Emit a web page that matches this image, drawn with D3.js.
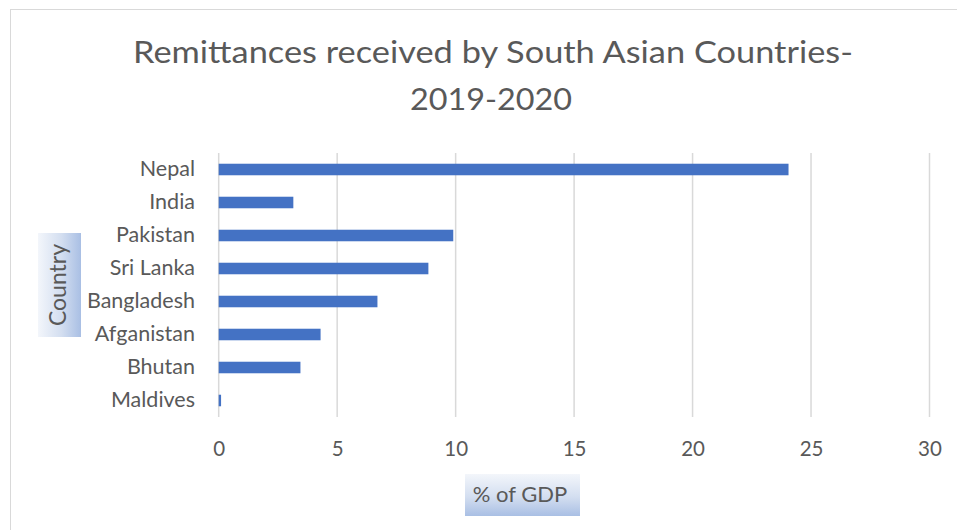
<!DOCTYPE html>
<html>
<head>
<meta charset="utf-8">
<script src="https://cdn.jsdelivr.net/npm/d3@7"></script>
<style>
  html, body { margin: 0; padding: 0; background: #ffffff; }
  svg { display: block; }
  text { font-family: Lato, "Open Sans", sans-serif; fill: #595959; }
</style>
</head>
<body>
<svg id="chart" width="957" height="530"></svg>
<script>
// Remittances as % of GDP, 2019-2020
const countries = ["Nepal", "India", "Pakistan", "Sri Lanka", "Bangladesh", "Afganistan", "Bhutan", "Maldives"];
const remittances = [24.05, 3.15, 9.9, 8.85, 6.7, 4.3, 3.45, 0.1];
const xTicks = [0, 5, 10, 15, 20, 25, 30];
const titleLines = ["Remittances received by South Asian Countries-", "2019-2020"];
const xAxisTitle = "% of GDP";
const yAxisTitle = "Country";

const rows = countries.map((c, i) => ({ country: c, value: remittances[i] }));

const svg = d3.select("#chart");

// gradient fills for the axis title boxes
const defs = svg.append("defs");
function boxGradient(id, horizontal) {
  const g = defs.append("linearGradient").attr("id", id)
    .attr("x1", 0).attr("y1", 0)
    .attr("x2", horizontal ? 1 : 0).attr("y2", horizontal ? 0 : 1);
  g.append("stop").attr("offset", "0%").attr("stop-color", "#f3f6fb");
  g.append("stop").attr("offset", "55%").attr("stop-color", "#d3def0");
  g.append("stop").attr("offset", "100%").attr("stop-color", "#a9bfe4");
}
boxGradient("boxV", false);
boxGradient("boxH", true);

// chart area frame
svg.append("rect")
  .attr("x", 10.5).attr("y", 9.5)
  .attr("width", 960).attr("height", 540)
  .attr("fill", "#ffffff")
  .attr("stroke", "#d9d9d9").attr("stroke-width", 1);

// title
svg.append("g").selectAll("text")
  .data(titleLines)
  .join("text")
  .attr("x", (d, i) => i === 0 ? 493 : 491)
  .attr("y", (d, i) => 63 + i * 47)
  .attr("text-anchor", "middle")
  .attr("font-size", 31)
  .attr("font-weight", 400)
  .attr("textLength", (d, i) => i === 0 ? 720 : 162)
  .attr("lengthAdjust", "spacingAndGlyphs")
  .text(d => d);

const x = d3.scaleLinear().domain([0, 30]).range([218.7, 929.5]);
const y = d3.scaleBand().domain(countries).range([153, 417])
  .paddingInner(0.65).paddingOuter(0.325);

// vertical gridlines
svg.append("g").selectAll("line")
  .data(xTicks)
  .join("line")
  .attr("x1", d => x(d)).attr("x2", d => x(d))
  .attr("y1", 153).attr("y2", 417)
  .attr("stroke", "#d9d9d9").attr("stroke-width", 1.5);

// x axis tick labels
const xAxis = d3.axisBottom(x).tickValues(xTicks).tickSize(0).tickPadding(0);
const gx = svg.append("g").attr("transform", "translate(0,441)").call(xAxis);
gx.select(".domain").remove();
gx.selectAll("text")
  .attr("font-size", 20.5)
  .attr("font-family", "Lato, sans-serif")
  .attr("fill", "#595959")
  .attr("dy", "0.72em");

// y axis category labels
const yAxis = d3.axisLeft(y).tickSize(0).tickPadding(0);
const gy = svg.append("g").attr("transform", "translate(195,0)").call(yAxis);
gy.select(".domain").remove();
gy.selectAll("text")
  .attr("font-size", 21.5)
  .attr("font-family", "Lato, sans-serif")
  .attr("fill", "#595959");

// bars
svg.append("g").selectAll("rect")
  .data(rows)
  .join("rect")
  .attr("x", x(0))
  .attr("y", d => y(d.country))
  .attr("width", d => x(d.value) - x(0))
  .attr("height", y.bandwidth())
  .attr("fill", "#4472c4");

// x axis title box
svg.append("rect")
  .attr("x", 465).attr("y", 474).attr("width", 115).attr("height", 42)
  .attr("fill", "url(#boxV)");
svg.append("text")
  .attr("x", 520).attr("y", 502)
  .attr("text-anchor", "middle")
  .attr("font-size", 22)
  .text(xAxisTitle);

// y axis title box
svg.append("rect")
  .attr("x", 38).attr("y", 233).attr("width", 43).attr("height", 104)
  .attr("fill", "url(#boxH)");
svg.append("text")
  .attr("transform", "translate(66,285) rotate(-90)")
  .attr("text-anchor", "middle")
  .attr("font-size", 23)
  .text(yAxisTitle);
</script>
</body>
</html>
